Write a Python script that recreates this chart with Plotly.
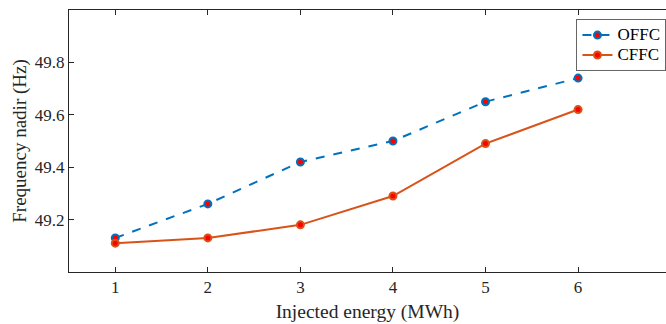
import plotly.graph_objects as go

energy = [1, 2, 3, 4, 5, 6]
offc = [49.13, 49.26, 49.42, 49.50, 49.65, 49.74]
cffc = [49.11, 49.13, 49.18, 49.29, 49.49, 49.62]
y_ticks = [49.2, 49.4, 49.6, 49.8]
series_names = ["OFFC", "CFFC"]

def legend_label(s):
    return f"<span style='font-size:17px'>{s}</span>"

fig = go.Figure()
fig.add_trace(go.Scatter(
    x=energy, y=offc, name=legend_label(series_names[0]), mode="lines+markers",
    line=dict(color="#0072BD", width=2, dash="dash"),
    marker=dict(size=7, color="#FF0000", line=dict(color="#0072BD", width=2)),
))
fig.add_trace(go.Scatter(
    x=energy, y=cffc, name=legend_label(series_names[1]), mode="lines+markers",
    line=dict(color="#D95319", width=2),
    marker=dict(size=7, color="#FF0000", line=dict(color="#D95319", width=2)),
))

font = "Times New Roman, Liberation Serif, DejaVu Serif, serif"
fig.update_layout(
    width=666, height=324,
    margin=dict(l=69, r=0, t=10, b=52, autoexpand=False),
    paper_bgcolor="white", plot_bgcolor="white",
    font=dict(family=font, size=17, color="#262626"),
    showlegend=True,
    legend=dict(
        x=0.850, y=0.965, xanchor="left", yanchor="top",
        bgcolor="white", bordercolor="#666666", borderwidth=1,
        font=dict(family=font, size=13, color="#000000"),
        tracegroupgap=0, itemwidth=30,
    ),
    xaxis=dict(
        range=[0.5, 6.95], tickvals=energy, ticks="inside", ticklen=5,
        tickcolor="#262626", showline=True, linecolor="#262626", linewidth=1,
        mirror="ticks", showgrid=False, zeroline=False, automargin=False,
        title=dict(text="Injected energy (MWh)", font=dict(family=font, size=19.5), standoff=7),
        tickfont=dict(family=font, size=17),
    ),
    yaxis=dict(
        range=[49.0, 50.0], tickvals=y_ticks, ticktext=[f"{v:.1f}" for v in y_ticks],
        ticks="inside", ticklen=5, tickcolor="#262626",
        showline=True, linecolor="#262626", linewidth=1, mirror=False,
        showgrid=False, zeroline=False, automargin=False,
        title=dict(text="Frequency nadir (Hz)", font=dict(family=font, size=19), standoff=3),
        tickfont=dict(family=font, size=17),
    ),
)
fig.write_html("out.html", config={"displayModeBar": False},
               post_script="document.body.style.margin='0';")
